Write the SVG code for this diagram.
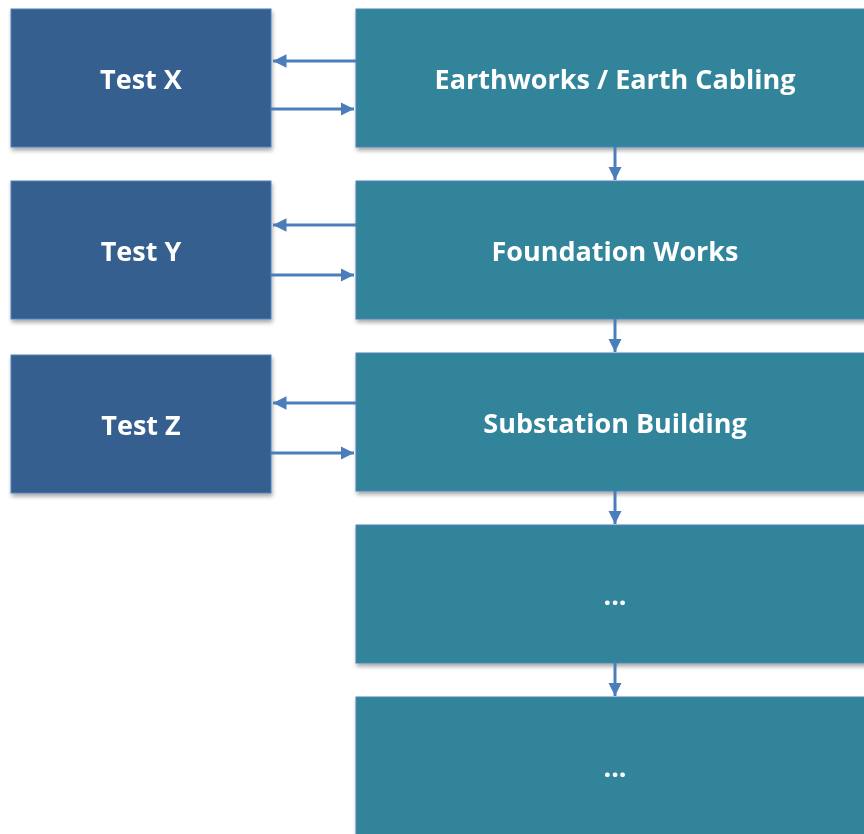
<svg xmlns="http://www.w3.org/2000/svg" width="864" height="834" viewBox="0 0 864 834">
<style>
.l{fill:#365f8f;stroke:#4f81bd;stroke-width:1}
.r{fill:#31849b;stroke:#4f81bd;stroke-width:1}
.t{font-family:"Open Sans","Liberation Sans",sans-serif;font-weight:bold;font-size:27px;fill:#ffffff;text-anchor:middle;dominant-baseline:central}
.c{stroke:#4a7ebb;stroke-width:3;fill:none}
</style>
<defs>
<filter id="sh" x="-10%" y="-10%" width="130%" height="130%">
<feGaussianBlur in="SourceAlpha" stdDeviation="2"/>
<feOffset dx="1" dy="3" result="b"/>
<feComponentTransfer><feFuncA type="linear" slope="0.35"/></feComponentTransfer>
<feMerge><feMergeNode/><feMergeNode in="SourceGraphic"/></feMerge>
</filter>
<marker id="ah" viewBox="0 0 10 10" refX="10" refY="5" markerWidth="4.5" markerHeight="4.5" markerUnits="strokeWidth" orient="auto">
<path d="M0,0 L10,5 L0,10 z" fill="#4a7ebb"/>
</marker>
</defs>
<g id="testx" filter="url(#sh)"><rect class="l" x="11" y="9" width="260" height="138"/><text class="t" x="141" y="78">Test X</text></g>
<g id="testy" filter="url(#sh)"><rect class="l" x="11" y="181" width="260" height="138"/><text class="t" x="141" y="250">Test Y</text></g>
<g id="testz" filter="url(#sh)"><rect class="l" x="11" y="355" width="260" height="138"/><text class="t" x="141" y="424">Test Z</text></g>
<g id="earth" filter="url(#sh)"><rect class="r" x="356" y="9" width="520" height="138"/><text class="t" x="615" y="78">Earthworks / Earth Cabling</text></g>
<g id="found" filter="url(#sh)"><rect class="r" x="356" y="181" width="520" height="138"/><text class="t" x="615" y="250">Foundation Works</text></g>
<g id="subst" filter="url(#sh)"><rect class="r" x="356" y="353" width="520" height="138"/><text class="t" x="615" y="422">Substation Building</text></g>
<g id="dots1" filter="url(#sh)"><rect class="r" x="356" y="525" width="520" height="138"/><text class="t" x="615" y="594">...</text></g>
<g id="dots2" filter="url(#sh)"><rect class="r" x="356" y="697" width="520" height="150"/><text class="t" x="615" y="766">...</text></g>
<g id="connectors">
<line class="c" x1="356" y1="61" x2="273" y2="61" marker-end="url(#ah)"/>
<line class="c" x1="271" y1="109" x2="354" y2="109" marker-end="url(#ah)"/>
<line class="c" x1="356" y1="225" x2="273" y2="225" marker-end="url(#ah)"/>
<line class="c" x1="271" y1="275" x2="354" y2="275" marker-end="url(#ah)"/>
<line class="c" x1="356" y1="403" x2="273" y2="403" marker-end="url(#ah)"/>
<line class="c" x1="271" y1="453" x2="354" y2="453" marker-end="url(#ah)"/>
<line class="c" x1="615" y1="147" x2="615" y2="180" marker-end="url(#ah)"/>
<line class="c" x1="615" y1="319" x2="615" y2="352" marker-end="url(#ah)"/>
<line class="c" x1="615" y1="491" x2="615" y2="524" marker-end="url(#ah)"/>
<line class="c" x1="615" y1="663" x2="615" y2="696" marker-end="url(#ah)"/>
</g>
</svg>
